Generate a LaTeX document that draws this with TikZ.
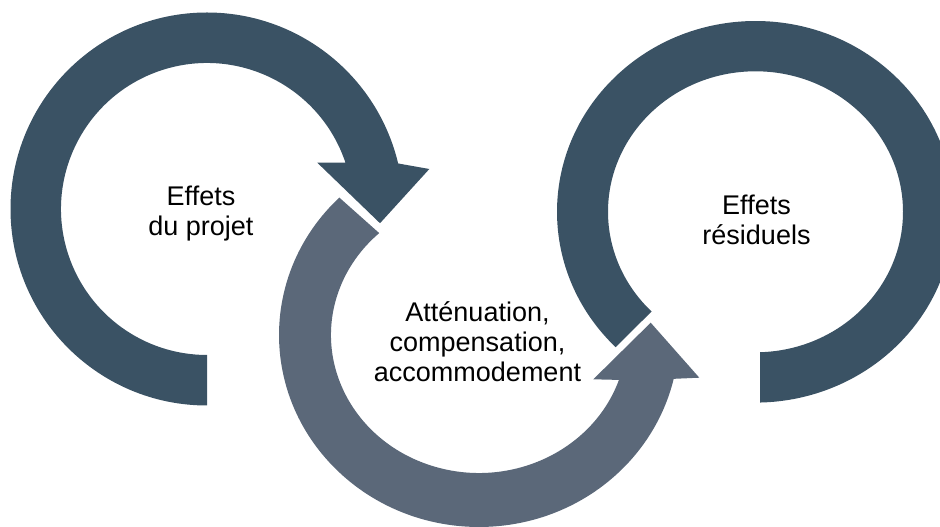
\documentclass[tikz,border=0pt]{standalone}
\usepackage{fontspec}
\setmainfont{Liberation Sans}
\definecolor{ringdark}{RGB}{58,82,100}
\definecolor{ringlight}{RGB}{91,104,121}
\tikzset{
  label/.style={align=center, text=black, inner sep=0pt,
    font=\fontsize{27}{30}\selectfont},
}
\begin{document}
\begin{tikzpicture}[x=1pt,y=1pt]
\useasboundingbox (0,0) rectangle (940,527);
\clip (0,0) rectangle (940,527);

% left ring: clockwise arrow from the bottom round to the upper right
\fill[ringdark, shift={(207,318)}]
  (270:196.5) arc[start angle=270, end angle=13.4, radius=196.5]
  -- (10.2:225.9) -- (-4.7:173.6) -- (22.8:119.6)
  -- (18.5:146) arc[start angle=18.5, end angle=270, radius=146]
  -- cycle;

% middle ring: counter-clockwise arrow ending upward on the right
\fill[ringlight, shift={(479,192)}]
  (134.3:200 and 192) arc[start angle=134.3, end angle=346.8, x radius=200, y radius=192]
  -- (220.3,-42.7) -- (171.7,12.3) -- (114.3,-44.3)
  -- (341:148 and 138) arc[start angle=341, end angle=132.4, x radius=148, y radius=138]
  -- cycle;

% right ring: clockwise band ending with a flat cut at the bottom
\fill[ringdark, shift={(755.5,315.2)}]
  (225.2:198.5 and 190.8) arc[start angle=225.2, end angle=-88.7, x radius=198.5, y radius=190.8]
  -- (-88.25:147.5 and 140.5) arc[start angle=-88.25, end angle=225.2, x radius=147.5, y radius=140.5]
  -- cycle;

\node[label] (projet) at (201,313.5) {Effets\\du projet};
\node[label] (attenuation) at (477.5,185) {Atténuation,\\compensation,\\accommodement};
\node[label] (residuels) at (756.5,307.5) {Effets\\résiduels};
\end{tikzpicture}
\end{document}
